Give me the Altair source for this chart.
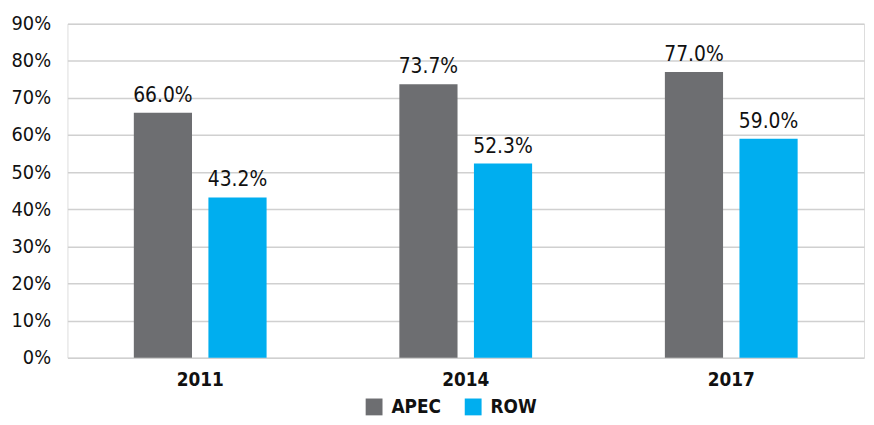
import altair as alt
import pandas as pd

years = ["2011", "2014", "2017"]
apec = [66.0, 73.7, 77.0]
row = [43.2, 52.3, 59.0]
series = ["APEC", "ROW"]
colors = ["#6d6e71", "#00aeef"]

recs = []
for i, y in enumerate(years):
    recs.append({"year": y, "series": "APEC", "value": apec[i] / 100})
    recs.append({"year": y, "series": "ROW", "value": row[i] / 100})
df = pd.DataFrame(recs)

FONT = "DejaVu Sans Condensed, Roboto, sans-serif"

x = alt.X("year:N", sort=years, title=None,
          scale=alt.Scale(paddingInner=0.5, paddingOuter=0.25),
          axis=alt.Axis(labelAngle=0, labelFontWeight="bold", labelFontSize=19,
                        labelFont=FONT, labelColor="#111", ticks=False, domain=False,
                        labelPadding=13))
xo = alt.XOffset("series:N", sort=series,
                 scale=alt.Scale(paddingInner=0.22, paddingOuter=0))
y = alt.Y("value:Q", title=None,
          scale=alt.Scale(domain=[0, 0.9], nice=False),
          axis=alt.Axis(format=".0%", values=[i / 10 for i in range(10)],
                        labelFontSize=20, labelFont=FONT, labelColor="#111",
                        ticks=False, domain=False, labelPadding=17,
                        gridColor="#d0d0d0", gridWidth=1.5))

bars = alt.Chart(df).mark_bar().encode(
    x=x, xOffset=xo, y=y,
    color=alt.Color("series:N", sort=series,
                    scale=alt.Scale(domain=series, range=colors),
                    legend=alt.Legend(title=None, orient="none", legendX=300, legendY=377,
                                      direction="horizontal", symbolType="square",
                                      symbolSize=289, symbolStrokeWidth=0,
                                      labelFont=FONT, labelFontSize=19, labelFontWeight="bold",
                                      labelColor="#111", columnPadding=23, labelOffset=8)),
)

text = alt.Chart(df).mark_text(baseline="alphabetic", dy=-11, fontSize=21, font=FONT, color="#111").encode(
    x=x, xOffset=xo, y=y,
    text=alt.Text("value:Q", format=".1%"),
)

chart = alt.layer(bars, text).properties(
    width=804, height=337,
    padding={"left": 60, "top": 14, "right": 2, "bottom": 57},
    autosize=alt.AutoSizeParams(type="none"),
).configure_view(stroke=None).configure(background="white")

chart.save("out.html", embed_options={"renderer": "svg", "actions": False})
